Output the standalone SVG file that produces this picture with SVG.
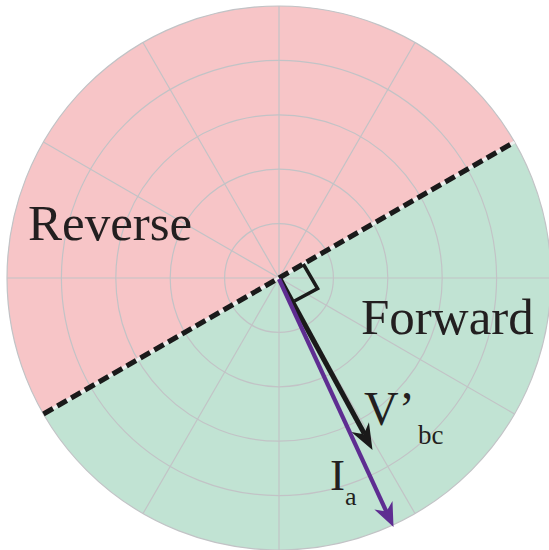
<svg xmlns="http://www.w3.org/2000/svg" width="549" height="550" viewBox="0 0 549 550">
<style>
.grid{fill:none;stroke:#c2c3c6;stroke-width:1.2}
.lbl{font-family:"Liberation Serif","Times New Roman",serif;fill:#231f20}
</style>
<rect width="549" height="550" fill="#ffffff"/>
<g id="regions">
<circle id="forward-region" cx="279" cy="278" r="272" fill="#c1e3d3"/>
<path id="reverse-region" d="M43.44 414 A272 272 0 0 1 514.56 142 Z" fill="#f7c5c7"/>
</g>
<g id="grid" class="grid">
<circle cx="279" cy="278" r="54.4"/>
<circle cx="279" cy="278" r="108.8"/>
<circle cx="279" cy="278" r="163.2"/>
<circle cx="279" cy="278" r="217.6"/>
<circle cx="279" cy="278" r="272"/>
<line x1="7" y1="278" x2="551" y2="278"/>
<line x1="279" y1="6" x2="279" y2="550"/>
<line x1="43.44" y1="142" x2="514.56" y2="414"/>
<line x1="143" y1="42.44" x2="415" y2="513.56"/>
<line x1="415" y1="42.44" x2="143" y2="513.56"/>
<line x1="43.44" y1="414" x2="514.56" y2="142"/>
</g>
<g id="connectors">
<g id="boundary">
<line x1="43.44" y1="414" x2="514.56" y2="142" stroke="#eeeeee" stroke-width="3"/>
<line x1="43.44" y1="414" x2="514.56" y2="142" stroke="#1a1a1a" stroke-width="5" stroke-dasharray="11 5"/>
</g>
<polyline id="right-angle" points="303.25,264 317.6,288.6 294.5,301" fill="none" stroke="#1a1a1a" stroke-width="3.5"/>
<g id="V-bc-vector">
<line x1="280" y1="279" x2="364.5" y2="434" stroke="#1a1a1a" stroke-width="5"/>
<polygon points="372.5,450 368.93,422.37 363.94,434.17 351.33,431.89" fill="#1a1a1a"/>
</g>
<g id="Ia-vector">
<line x1="279" y1="279" x2="386.8" y2="512.5" stroke="#5e2d91" stroke-width="4.2"/>
<polygon points="393.5,527 392.5,501 386.38,511.57 374.4,509.4" fill="#5e2d91"/>
</g>
</g>
<g id="label-reverse"><text class="lbl" x="28" y="240" font-size="51">Reverse</text></g>
<g id="label-forward"><text class="lbl" x="361" y="334" font-size="51">Forward</text></g>
<g id="label-vbc"><text class="lbl" x="364" y="425" font-size="48">V’</text><text class="lbl" x="418" y="444" font-size="27">bc</text></g>
<g id="label-ia"><text class="lbl" x="330" y="490" font-size="45">I</text><text class="lbl" x="345" y="505" font-size="26">a</text></g>
</svg>
